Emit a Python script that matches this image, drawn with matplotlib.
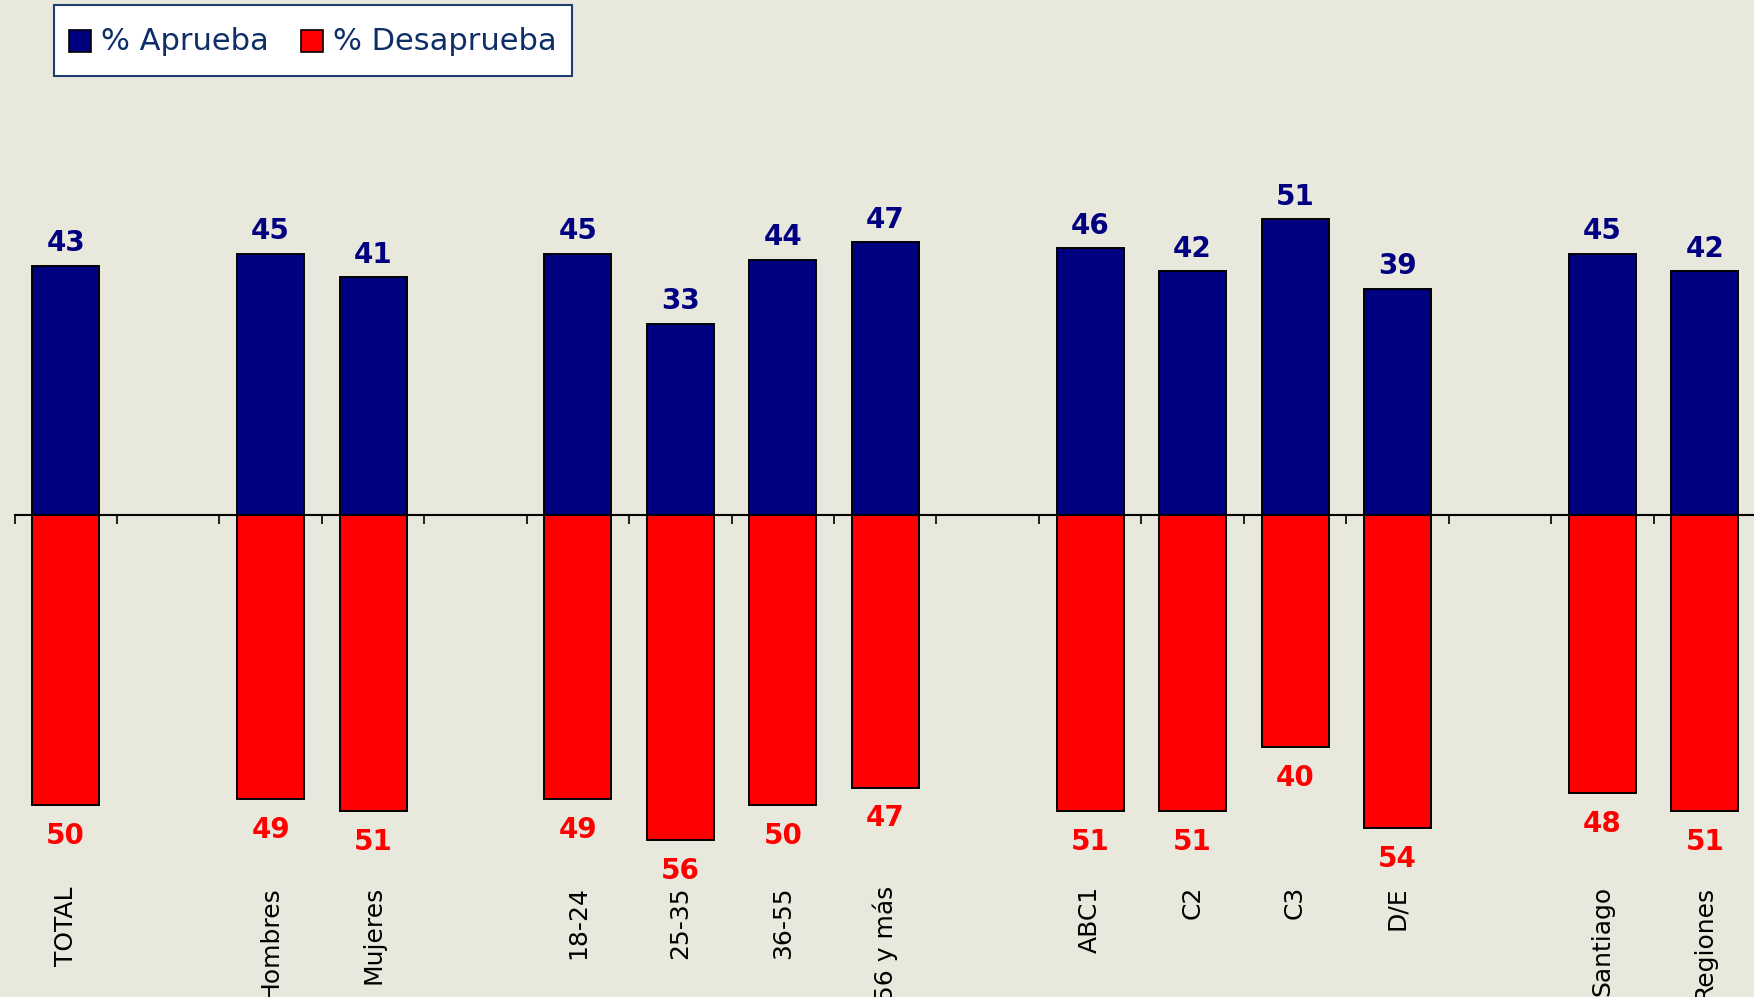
import matplotlib
matplotlib.use("Agg")
import matplotlib.pyplot as plt
from matplotlib.lines import Line2D
from matplotlib.legend_handler import HandlerLine2D
from matplotlib.ticker import FixedLocator, NullLocator
import matplotlib.transforms as mtransforms
import numpy as np

plt.rcParams['font.family'] = ['DejaVu Sans']

# ---- data ----
categories = ["TOTAL", "Hombres", "Mujeres", "18-24", "25-35", "36-55", "56 y más",
              "ABC1", "C2", "C3", "D/E", "Santiago", "Regiones"]
group_sizes = [1, 2, 4, 4, 2]
aprueba = [43, 45, 41, 45, 33, 44, 47, 46, 42, 51, 39, 45, 42]
desaprueba = [50, 49, 51, 49, 56, 50, 47, 51, 51, 40, 54, 48, 51]
legend_labels = ["% Aprueba", "% Desaprueba"]

# ---- layout ----
pos = []
p = 0
for g in group_sizes:
    for i in range(g):
        pos.append(p)
        p += 1
    p += 1  # gap slot
pos = np.array(pos, dtype=float)

BG = "#E9E8DD"
BLUE = "#000080"
RED = "#FF0000"

W, H = 1754, 997
fig = plt.figure(figsize=(W / 100, H / 100), dpi=100, facecolor=BG)
left_px, right_px = 14.5, 1756
ax = fig.add_axes([left_px / W, 0, (right_px - left_px) / W, 1])
ax.set_facecolor(BG)

px_per_unit = 5.8
base_px = 515
ax.set_ylim(-(H - base_px) / px_per_unit, base_px / px_per_unit)
ax.set_xlim(-0.5, 16.5)

bw = 0.654
ax.bar(pos, aprueba, width=bw, color=BLUE, edgecolor="black", linewidth=1.4, zorder=3)
ax.bar(pos, [-d for d in desaprueba], width=bw, color=RED, edgecolor="black", linewidth=1.4, zorder=3)

for x, a, d in zip(pos, aprueba, desaprueba):
    ax.annotate(str(a), (x, a), xytext=(0, 10.5), textcoords="offset points",
                ha="center", va="baseline", fontsize=20, fontweight="bold", color=BLUE)
    ax.annotate(str(d), (x, -d), xytext=(0, -28), textcoords="offset points",
                ha="center", va="baseline", fontsize=20, fontweight="bold", color=RED)

# spines / ticks
for s in ["top", "right", "left"]:
    ax.spines[s].set_visible(False)
ax.spines["bottom"].set_position(("data", 0))
ax.spines["bottom"].set_linewidth(1.5)
ax.spines["bottom"].set_zorder(4)
ax.yaxis.set_major_locator(NullLocator())
ax.xaxis.set_major_locator(FixedLocator(np.arange(-0.5, 16.6, 1.0)))
ax.tick_params(axis="x", which="major", direction="out", length=6.5, width=1.2,
               labelbottom=False, color="black")

# category labels at bottom
trans = mtransforms.blended_transform_factory(ax.transData, fig.transFigure)
for x, c in zip(pos, categories):
    fig.text(x, 1 - 886 / H, c, transform=trans, rotation=90, ha="center", va="top",
             fontsize=18, color="black")


class ShiftedSquareHandler(HandlerLine2D):
    def create_artists(self, legend, orig_handle, xdescent, ydescent, width, height,
                       fontsize, trans):
        artists = super().create_artists(legend, orig_handle, xdescent, ydescent,
                                         width, height, fontsize, trans)
        for a in artists:
            a.set_ydata(np.asarray(a.get_ydata()) - 4.0)
        return artists


# legend
handles = [Line2D([], [], linestyle="none", marker="s", markersize=15.5,
                  markerfacecolor=BLUE, markeredgecolor="black", markeredgewidth=1.2),
           Line2D([], [], linestyle="none", marker="s", markersize=15.5,
                  markerfacecolor=RED, markeredgecolor="black", markeredgewidth=1.2)]
leg = fig.legend(handles, legend_labels, loc="upper left",
                 bbox_to_anchor=(54 / W, 1 - 5 / H), ncol=2, fontsize=22,
                 frameon=True, fancybox=False, handlelength=0.7, handleheight=1.65,
                 handletextpad=0.35, columnspacing=1.05, borderpad=0.5,
                 borderaxespad=0, labelcolor="#0E2E66",
                 handler_map={Line2D: ShiftedSquareHandler()})
leg.get_frame().set_edgecolor("#1F3F73")
leg.get_frame().set_linewidth(1.5)
leg.get_frame().set_facecolor("white")
leg.get_frame().set_alpha(1)

fig.savefig("out.png", dpi=100, facecolor=BG)
